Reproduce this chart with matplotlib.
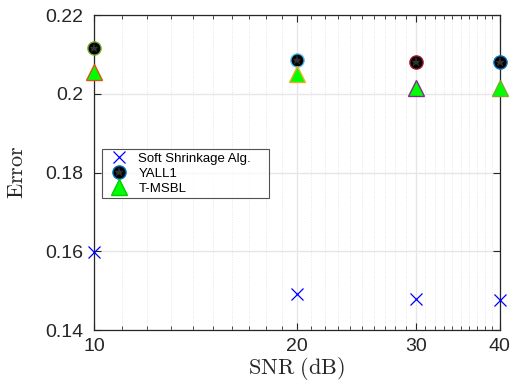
import numpy as np
import matplotlib
import matplotlib.pyplot as plt
from matplotlib.ticker import FixedLocator, NullFormatter

matplotlib.use("agg")

snr = [10, 20, 30, 40]
err_soft = [0.1597, 0.1491, 0.1479, 0.1477]
err_yall1 = [0.2117, 0.2086, 0.2080, 0.2081]
err_tmsbl = [0.2055, 0.2051, 0.2015, 0.2015]

x_ticks = [10, 20, 30, 40]
y_ticks = [0.14, 0.16, 0.18, 0.2, 0.22]
y_ticklabels = ["0.14", "0.16", "0.18", "0.2", "0.22"]

# edge colours change from point to point (matlab colour order)
yall1_edges = ["#77AC30", "#4DBEEE", "#A2142F", "#0072BD"]
tmsbl_edges = ["#D95319", "#EDB120", "#7E2F8E", "#77AC30"]

plt.rcParams["font.family"] = ["Liberation Sans", "DejaVu Sans"]
plt.rcParams["mathtext.fontset"] = "cm"

fig = plt.figure(figsize=(5.18, 3.9), dpi=100)
ax = fig.add_axes([0.1815, 0.1538, 0.7835, 0.8077])

ax.set_xscale("log")
ax.set_xlim(10, 40)
ax.set_ylim(0.14, 0.22)

ax.plot(snr, err_soft, linestyle="none", marker="x", color="#0000FF",
        markersize=8.5, markeredgewidth=0.9, zorder=5, clip_on=False)

for x, y, ec in zip(snr, err_yall1, yall1_edges):
    ax.plot(x, y, linestyle="none", marker="o", markerfacecolor="black",
            markeredgecolor=ec, markersize=9.5, markeredgewidth=1.0, zorder=5,
            clip_on=False)
    ax.plot(x, y, linestyle="none", marker="*", color="#333333",
            markersize=6.5, markeredgewidth=0.2, zorder=6, clip_on=False)

for x, y, ec in zip(snr, err_tmsbl, tmsbl_edges):
    ax.plot(x, y, linestyle="none", marker="^", markerfacecolor="#00FF00",
            markeredgecolor=ec, markersize=11, markeredgewidth=1.0, zorder=5,
            clip_on=False)

# legend proxies
h_soft, = ax.plot([], [], linestyle="none", marker="x", color="#0000FF",
                  markersize=8.5, markeredgewidth=0.9)
h_circ, = ax.plot([], [], linestyle="none", marker="o", markerfacecolor="black",
                  markeredgecolor="#0072BD", markersize=9.5, markeredgewidth=1.0)
h_star, = ax.plot([], [], linestyle="none", marker="*", color="#333333",
                  markersize=6.5, markeredgewidth=0.2)
h_tri, = ax.plot([], [], linestyle="none", marker="^", markerfacecolor="#00FF00",
                 markeredgecolor="#00CC00", markersize=11, markeredgewidth=1.0)

leg = ax.legend([h_soft, (h_circ, h_star), h_tri],
                ["Soft Shrinkage Alg.    ", "YALL1", "T-MSBL"],
                loc="upper left", bbox_to_anchor=(0.0197, 0.5746),
                fontsize=9.5, frameon=True, fancybox=False, borderpad=0.25,
                labelspacing=0.22, handlelength=2.0, handletextpad=0.5,
                borderaxespad=0.0)
leg.get_frame().set_edgecolor("#262626")
leg.get_frame().set_linewidth(0.8)

ax.xaxis.set_major_locator(FixedLocator(x_ticks))
ax.xaxis.set_minor_locator(FixedLocator(
    [v for v in range(11, 40) if v not in x_ticks]))
ax.xaxis.set_minor_formatter(NullFormatter())
ax.set_xticklabels([str(v) for v in x_ticks])
ax.set_yticks(y_ticks)
ax.set_yticklabels(y_ticklabels)

ax.grid(True, which="major", color="#e6e6e6", linewidth=1.0, linestyle="-")
ax.grid(True, which="minor", axis="x", color="#dcdcdc", linewidth=0.6,
        linestyle=(0, (1, 2)))
ax.set_axisbelow(True)

ax.tick_params(which="both", direction="in", top=True, right=True,
               colors="#262626", labelsize=14, labelcolor="#262626")
ax.tick_params(which="major", length=5, width=0.8)
ax.tick_params(axis="y", which="major", pad=8)
ax.tick_params(axis="x", which="major", pad=6)
ax.tick_params(which="minor", length=3, width=0.6)
for s in ax.spines.values():
    s.set_color("#262626")
    s.set_linewidth(0.9)

ax.set_xlabel(r"$\mathrm{SNR\ (dB)}$", fontsize=16, color="#262626", labelpad=0)
ax.set_ylabel(r"$\mathrm{Error}$", fontsize=16, color="#262626", labelpad=12)

fig.savefig("out.png", dpi=100)
